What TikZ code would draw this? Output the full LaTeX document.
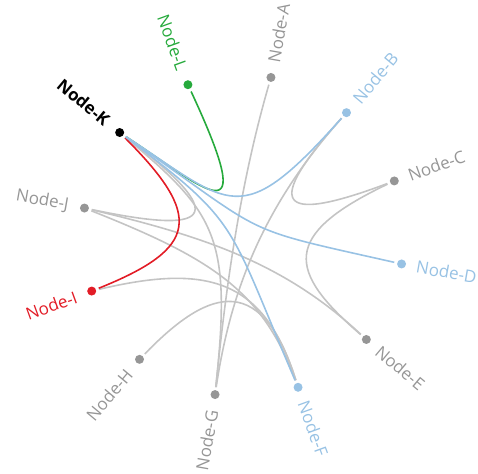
\documentclass[tikz,border=0pt]{standalone}
\usepackage{fontspec}
\setmainfont{Open Sans}

\definecolor{edgegray}{RGB}{196,196,196}
\definecolor{nodegray}{RGB}{150,150,150}
\definecolor{linkblue}{RGB}{152,194,228}
\definecolor{linkgreen}{RGB}{38,170,60}
\definecolor{linkred}{RGB}{226,28,38}

\tikzset{
  dot/.style={circle, fill=#1, inner sep=0pt, minimum size=9pt, outer sep=3pt},
  lbl/.style={text=#1, inner sep=0pt, font=\fontsize{17}{20}\selectfont},
  link/.style={draw=#1, line width=1.6pt},
}

\begin{document}
\begin{tikzpicture}[x=1pt,y=-1pt]
\useasboundingbox (0,0) rectangle (478,473);

% ring of twelve nodes, radius 161 around (243,236)
\foreach \n/\a in {A/80, B/50, C/20, D/-10, E/-40, F/-70, G/-100, H/-130,
    I/-160, J/170, K/140, L/110}
  \coordinate (p\n) at ({243+161*cos(\a)},{236-161*sin(\a)});

% grey links
\foreach \s/\t/\ca/\cb in {K/J/{249,230}/{189.5,230}, K/G/{216.6,213.3}/{231.7,237.5},
    A/G/{240.4,183}/{226,285}, B/G/{260,209.7}/{230,295.6},
    B/C/{264.4,204.6}/{275.2,225.5}, C/E/{280.4,235.3}/{287.4,271.2},
    J/E/{205,236.6}/{284.8,263.5}, J/F/{210.6,258.2}/{261.9,290},
    I/F/{206.4,263.9}/{263.6,278}, H/F/{202.7,294.3}/{259.4,264.8}}
  \path[link=edgegray, shorten <=7.5pt, shorten >=7.5pt]
    (p\s) .. controls (\ca) and (\cb) .. (p\t);

% links leaving Node-K
\path[link=linkgreen, shorten <=7.5pt, shorten >=7.5pt] (pK) .. controls (204,188) and (262,244) .. (pL);
\path[link=linkred, shorten <=7.5pt, shorten >=7.5pt] (pK) .. controls (203,216) and (199,248) .. (pI);
\path[link=linkblue, shorten <=7.5pt, shorten >=7.5pt] (pK) .. controls (232,206) and (239.4,232.4) .. (pB);
\path[link=linkblue, shorten <=7.5pt, shorten >=7.5pt] (pK) .. controls (272,238.6) and (234.4,226.4) .. (pD);
\path[link=linkblue, shorten <=7.5pt, shorten >=7.5pt] (pK) .. controls (241,224) and (227,221.4) .. (pF);

% dots
\foreach \n/\col in {A/nodegray, B/linkblue, C/nodegray, D/linkblue, E/nodegray,
    F/linkblue, G/nodegray, H/nodegray, I/linkred, J/nodegray, K/black, L/linkgreen}
  \node[dot=\col] (\n) at (p\n) {};

% labels on the right half read outwards
\foreach \n/\a/\col in {A/80/nodegray, B/50/linkblue, C/20/nodegray, D/-10/linkblue,
    E/-40/nodegray, F/-70/linkblue}
  \node[lbl=\col, rotate=\a, anchor=west] (l\n) at ({243+176*cos(\a)},{236-176*sin(\a)}) {Node-\n};

% labels on the left half read inwards
\foreach \n/\a/\col in {G/-100/nodegray, H/-130/nodegray, I/-160/linkred,
    J/170/nodegray, L/110/linkgreen}
  \node[lbl=\col, rotate=\a+180, anchor=east] (l\n) at ({243+177*cos(\a)},{236-177*sin(\a)}) {Node-\n};

\node[lbl=black, font=\fontsize{17}{20}\selectfont\bfseries, rotate=-40, anchor=east] (lK)
  at ({243+177*cos(140)},{236-177*sin(140)}) {Node-K};
\end{tikzpicture}
\end{document}
